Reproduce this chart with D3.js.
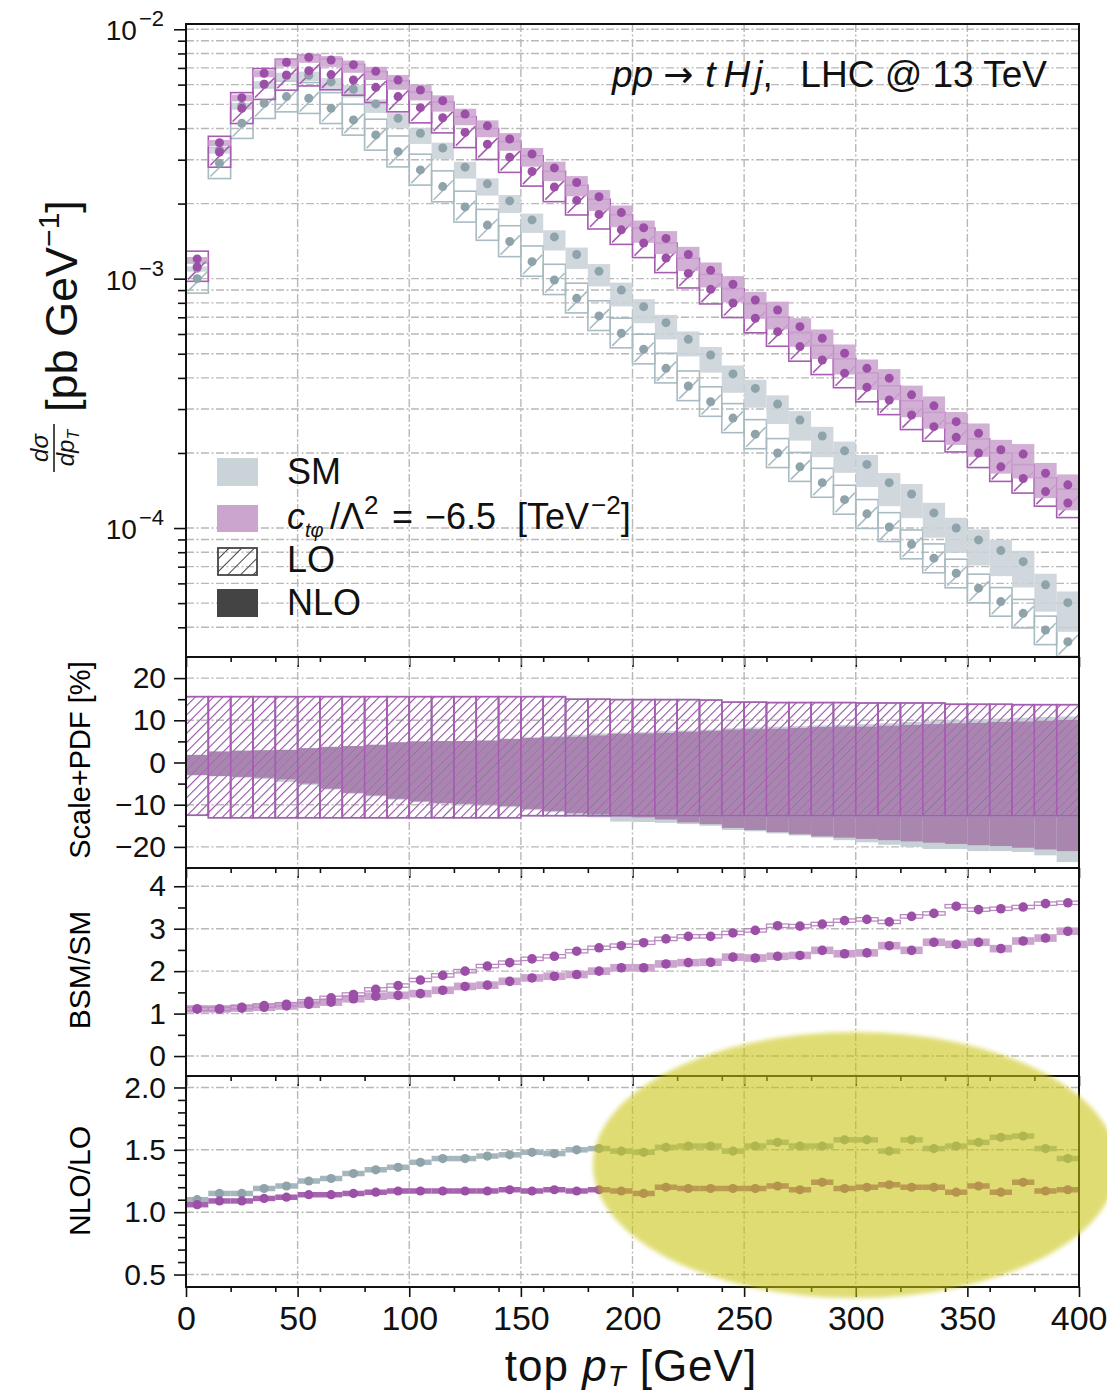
<!DOCTYPE html>
<html lang="en">
<head>
  <meta charset="UTF-8">
  <title>tHj top pT</title>
  <script src="https://cdn.jsdelivr.net/npm/d3@7"></script>
  <style>
    body { margin: 0; background: #fff; }
    svg { font-family: "Liberation Sans", Arial, Helvetica, sans-serif; }
    .grid { stroke: #b8b8b8; stroke-width: 1.4; stroke-dasharray: 8,2.5,2,2.5; }
    .axis line { stroke: #111; stroke-width: 1.6; }
    .axis path { display: none; }
    .axis text { font-family: "Liberation Sans", Arial, sans-serif; fill: #111; }
  </style>
</head>
<body>
<svg id="chart" width="1107" height="1392"></svg>
<script type="text/javascript">
  // 10 GeV bins, lower edges
  var binStart = [0,10,20,30,40,50,60,70,80,90,100,110,120,130,140,150,160,170,180,190,
                  200,210,220,230,240,250,260,270,280,290,300,310,320,330,340,350,360,370,380,390];
  var binWidth = 10;

  // top panel, d sigma / d pT [pb/GeV]
  var smLO = [1.00e-3,2.90e-3,4.20e-3,5.05e-3,5.37e-3,5.29e-3,4.82e-3,4.33e-3,3.77e-3,3.23e-3,
              2.73e-3,2.34e-3,1.94e-3,1.64e-3,1.41e-3,1.17e-3,9.88e-4,8.34e-4,7.09e-4,6.04e-4,
              5.21e-4,4.37e-4,3.71e-4,3.21e-4,2.76e-4,2.38e-4,2.00e-4,1.76e-4,1.52e-4,1.30e-4,
              1.14e-4,1.01e-4,8.61e-5,7.57e-5,6.59e-5,5.74e-5,5.07e-5,4.55e-5,3.90e-5,3.50e-5];
  var smNLO = [1.10e-3,3.28e-3,4.93e-3,6.02e-3,6.50e-3,6.54e-3,6.15e-3,5.75e-3,5.02e-3,4.40e-3,
               3.83e-3,3.34e-3,2.80e-3,2.40e-3,2.05e-3,1.72e-3,1.47e-3,1.25e-3,1.07e-3,9.00e-4,
               7.72e-4,6.66e-4,5.71e-4,4.94e-4,4.15e-4,3.63e-4,3.14e-4,2.71e-4,2.34e-4,2.04e-4,
               1.80e-4,1.52e-4,1.37e-4,1.15e-4,1.00e-4,8.96e-5,8.12e-5,7.33e-5,5.92e-5,5.02e-5];
  var bsmLO = [1.115e-3,3.22e-3,4.82e-3,6.02e-3,6.56e-3,6.82e-3,6.58e-3,6.26e-3,5.85e-3,5.37e-3,
               4.85e-3,4.42e-3,3.86e-3,3.46e-3,3.07e-3,2.69e-3,2.33e-3,2.06e-3,1.81e-3,1.57e-3,
               1.39e-3,1.21e-3,1.05e-3,9.06e-4,7.99e-4,6.94e-4,6.13e-4,5.34e-4,4.72e-4,4.18e-4,
               3.67e-4,3.26e-4,2.84e-4,2.55e-4,2.31e-4,2.00e-4,1.76e-4,1.58e-4,1.40e-4,1.26e-4];
  var bsmNLO = [1.20e-3,3.51e-3,5.32e-3,6.66e-3,7.37e-3,7.72e-3,7.53e-3,7.21e-3,6.79e-3,6.26e-3,
                5.71e-3,5.17e-3,4.57e-3,4.10e-3,3.63e-3,3.16e-3,2.78e-3,2.43e-3,2.13e-3,1.84e-3,
                1.60e-3,1.45e-3,1.25e-3,1.08e-3,9.50e-4,8.21e-4,7.49e-4,6.42e-4,5.77e-4,5.02e-4,
                4.37e-4,3.99e-4,3.42e-4,3.09e-4,2.67e-4,2.40e-4,2.06e-4,1.98e-4,1.66e-4,1.49e-4];

  // scale+PDF uncertainty [%]
  var loUp = [15.6,15.6,15.6,15.6,15.6,15.6,15.6,15.6,15.6,15.6,15.6,15.6,15.6,15.6,15.6,15.6,15.6,15.0,15.0,14.9,
              14.9,14.9,14.9,14.8,14.3,14.3,14.2,14.2,14.2,14.2,14.1,14.1,14.1,14.1,13.8,13.8,13.8,13.7,13.7,13.7];
  var loDown = [-12.5,-13.1,-13.1,-13.1,-13.1,-13.1,-13.1,-13.1,-13.1,-13.1,-13.1,-13.1,-13.1,-13.1,-13.1,-12.6,-12.6,-12.6,-12.6,-12.6,
                -12.6,-12.6,-12.6,-12.6,-12.6,-12.6,-12.6,-12.6,-12.6,-12.6,-12.6,-12.6,-12.6,-12.6,-12.6,-12.6,-12.6,-12.6,-12.6,-12.6];
  var smNloUp = [1.8,2.6,2.8,2.9,3.0,3.4,3.7,3.9,4.2,4.8,5.0,5.1,5.1,5.2,5.6,6.0,6.3,6.6,6.9,7.1,
                 7.2,7.5,7.6,7.8,8.1,8.3,8.5,8.6,8.8,8.9,9.1,9.3,9.6,9.8,10.0,10.2,10.4,10.6,10.8,10.9];
  var smNloDown = [-3.0,-3.3,-3.6,-3.9,-4.6,-5.3,-6.4,-7.4,-8.0,-8.8,-9.4,-9.8,-10.0,-10.3,-10.6,-11.3,-11.8,-12.4,-13.0,-14.0,
                   -14.1,-14.3,-14.6,-15.0,-16.0,-16.3,-16.8,-17.3,-17.8,-18.4,-18.9,-19.5,-20.0,-20.5,-20.5,-21.0,-21.0,-21.2,-22.0,-23.6];
  var bsmNloUp = [1.8,2.6,2.8,2.9,3.0,3.4,3.7,3.9,4.2,4.8,5.0,5.1,5.1,5.2,5.6,5.8,6.0,6.1,6.4,6.8,
                  6.9,7.0,7.3,7.5,7.8,7.9,8.0,8.2,8.4,8.5,8.5,8.7,8.9,9.1,9.3,9.4,9.6,9.7,9.9,10.1];
  var bsmNloDown = [-3.0,-3.2,-3.4,-3.6,-4.0,-5.0,-6.2,-7.2,-7.8,-8.6,-9.2,-9.6,-9.8,-10.0,-10.3,-11.0,-11.5,-12.0,-12.3,-12.6,
                    -13.0,-13.5,-14.2,-14.6,-15.5,-16.0,-16.5,-17.0,-17.5,-17.8,-18.1,-18.4,-18.7,-19.0,-19.3,-19.6,-19.8,-20.2,-20.6,-21.0];

  // BSM/SM
  var ratioLO = [1.11,1.11,1.15,1.19,1.22,1.29,1.37,1.45,1.57,1.66,1.79,1.90,2.00,2.12,2.20,2.29,2.35,2.47,2.55,2.60,
                 2.67,2.76,2.82,2.82,2.90,2.96,3.07,3.06,3.11,3.19,3.22,3.16,3.29,3.36,3.53,3.45,3.47,3.51,3.59,3.61];
  var ratioNLO = [1.11,1.11,1.13,1.15,1.18,1.22,1.27,1.35,1.41,1.43,1.47,1.55,1.64,1.67,1.76,1.84,1.88,1.92,2.00,2.08,
                  2.08,2.17,2.20,2.21,2.33,2.31,2.35,2.37,2.49,2.41,2.43,2.60,2.49,2.68,2.63,2.68,2.53,2.71,2.78,2.94];

  // NLO/LO
  var kSM = [1.10,1.15,1.15,1.19,1.21,1.25,1.27,1.31,1.34,1.36,1.40,1.43,1.43,1.45,1.46,1.48,1.47,1.50,1.51,1.49,
             1.48,1.52,1.53,1.53,1.49,1.53,1.56,1.53,1.53,1.58,1.58,1.49,1.58,1.51,1.53,1.56,1.60,1.61,1.51,1.43];
  var kBSM = [1.06,1.09,1.09,1.11,1.12,1.14,1.14,1.15,1.16,1.17,1.17,1.17,1.17,1.17,1.18,1.17,1.18,1.17,1.18,1.17,
              1.15,1.20,1.19,1.19,1.19,1.19,1.21,1.18,1.24,1.19,1.20,1.22,1.20,1.20,1.16,1.21,1.16,1.24,1.17,1.18];

  // ticks
  var xMajor = [0,50,100,150,200,250,300,350,400];
  var xMinor = [20,40,60,80,120,140,160,180,220,240,260,280,320,340,360,380];
  var xGrid = [50,100,150,200,250,300,350];
  var topMajor = [1e-4,1e-3,1e-2];
  var topMinor = [4e-5,5e-5,6e-5,7e-5,8e-5,9e-5,2e-4,3e-4,4e-4,5e-4,6e-4,7e-4,8e-4,9e-4,
                  2e-3,3e-3,4e-3,5e-3,6e-3,7e-3,8e-3,9e-3];
  var uncMajor = [-20,-10,0,10,20], uncMinor = [-15,-5,5,15];
  var ratioMajor = [0,1,2,3,4], ratioMinor = [0.5,1.5,2.5,3.5];
  var kMajor = [0.5,1.0,1.5,2.0];
  var kMinor = [0.6,0.7,0.8,0.9,1.1,1.2,1.3,1.4,1.6,1.7,1.8,1.9];

  var smFill = "#c9d3d8", smDot = "#8fa3ab", smLine = "#a9bbc2";
  var bsmFill = "#cca5cf", bsmDot = "#9c4fa7", bsmLine = "#a65cb0";

  var left = 186, right = 1079;
  var svg = d3.select("#chart");
  var x = d3.scaleLinear().domain([0, 400]).range([left, right]);
  var yTop = d3.scaleLog().domain([3.04e-5, 1.05e-2]).range([657, 24]);
  var yUnc = d3.scaleLinear().domain([-25, 25]).range([868, 657]);
  var yRatio = d3.scaleLinear().domain([-0.47, 4.43]).range([1076, 868]);
  var yK = d3.scaleLinear().domain([0.4, 2.1]).range([1287, 1075]);

  var defs = svg.append("defs");
  function hatch(id, color, size, width) {
    defs.append("pattern").attr("id", id)
      .attr("patternUnits", "userSpaceOnUse")
      .attr("width", size).attr("height", size)
      .attr("patternTransform", "rotate(45)")
      .append("line")
      .attr("x1", 0).attr("y1", -1).attr("x2", 0).attr("y2", size + 1)
      .attr("stroke", color).attr("stroke-width", width);
  }
  hatch("hatchSM", smLine, 6.5, 2);
  hatch("hatchBSM", bsmLine, 6.5, 2);
  hatch("hatchLeg", "#444", 9, 2);
  defs.append("filter").attr("id", "soft")
    .append("feGaussianBlur").attr("stdDeviation", 2);

  // grid lines for one panel
  function drawGrid(yScale, yVals, y0, y1) {
    var g = svg.append("g");
    g.selectAll(null).data(yVals).enter().append("line")
      .attr("class", "grid")
      .attr("x1", left).attr("x2", right)
      .attr("y1", function(d) { return yScale(d); })
      .attr("y2", function(d) { return yScale(d); });
    g.selectAll(null).data(xGrid).enter().append("line")
      .attr("class", "grid")
      .attr("x1", function(d) { return x(d); })
      .attr("x2", function(d) { return x(d); })
      .attr("y1", y0).attr("y2", y1);
  }

  function drawFrame(y0, y1) {
    svg.append("rect")
      .attr("x", left).attr("y", y0)
      .attr("width", right - left).attr("height", y1 - y0)
      .attr("fill", "none").attr("stroke", "#111").attr("stroke-width", 2);
  }

  function drawXAxis(yPos, withLabels) {
    svg.append("g").attr("class", "axis")
      .attr("transform", "translate(0," + yPos + ")")
      .call(d3.axisBottom(x).tickValues(xMinor).tickSize(5).tickFormat(""));
    var g = svg.append("g").attr("class", "axis")
      .attr("transform", "translate(0," + yPos + ")")
      .call(d3.axisBottom(x).tickValues(xMajor).tickSize(10).tickPadding(9)
        .tickFormat(withLabels ? d3.format("d") : ""));
    g.selectAll("text").style("font-size", "34px");
    // last label sits flush with the right edge
    g.selectAll("text").filter(function(d) { return d === 400; })
      .attr("text-anchor", "end").attr("x", 28);
  }

  function drawYAxis(yScale, major, minor, fmt) {
    svg.append("g").attr("class", "axis")
      .attr("transform", "translate(" + left + ",0)")
      .call(d3.axisLeft(yScale).tickValues(minor).tickSize(8).tickFormat(""));
    var g = svg.append("g").attr("class", "axis")
      .attr("transform", "translate(" + left + ",0)")
      .call(d3.axisLeft(yScale).tickValues(major).tickSize(12).tickPadding(8).tickFormat(fmt));
    g.selectAll("text").style("font-size", "30px");
  }

  function yLabel(text, cx, cy, size) {
    svg.append("text")
      .attr("transform", "translate(" + cx + "," + cy + ") rotate(-90)")
      .attr("text-anchor", "middle")
      .style("font-size", size + "px")
      .text(text);
  }

  // ---------- top panel ----------
  drawGrid(yTop, topMinor.concat(topMajor), 24, 657);

  function loBoxes(vals, line) {
    var g = svg.append("g");
    vals.forEach(function(v, i) {
      var x0 = x(binStart[i]), x1 = x(binStart[i] + binWidth);
      var yt = yTop(v * (1 + loUp[i] / 100)), yb = yTop(v * (1 + loDown[i] / 100));
      var w = x1 - x0, h = yb - yt, L = Math.min(w, h) - 3;
      g.append("rect").attr("x", x0).attr("y", yt).attr("width", w).attr("height", h)
        .attr("fill", "none").attr("stroke", line).attr("stroke-width", 1.6);
      g.append("line")
        .attr("x1", x0 + 2).attr("y1", yb - 2).attr("x2", x0 + 2 + L).attr("y2", yb - 2 - L)
        .attr("stroke", line).attr("stroke-width", 1.6);
    });
  }
  function nloBoxes(vals, up, down, fill) {
    svg.append("g").selectAll(null).data(vals).enter().append("rect")
      .attr("x", function(d, i) { return x(binStart[i]); })
      .attr("width", x(binWidth) - x(0))
      .attr("y", function(d, i) { return yTop(d * (1 + up[i] / 100)); })
      .attr("height", function(d, i) { return yTop(d * (1 + down[i] / 100)) - yTop(d * (1 + up[i] / 100)); })
      .attr("fill", fill).attr("opacity", 0.88);
  }
  function dots(vals, yScale, color, r) {
    svg.append("g").selectAll(null).data(vals).enter().append("circle")
      .attr("cx", function(d, i) { return x(binStart[i] + binWidth / 2); })
      .attr("cy", function(d) { return yScale(d); })
      .attr("r", r).attr("fill", color);
  }

  loBoxes(smLO, smLine);
  nloBoxes(smNLO, smNloUp, smNloDown, smFill);
  loBoxes(bsmLO, bsmLine);
  nloBoxes(bsmNLO, bsmNloUp, bsmNloDown, bsmFill);
  dots(smLO, yTop, smDot, 4.5);
  dots(smNLO, yTop, smDot, 4.5);
  dots(bsmLO, yTop, bsmDot, 4.5);
  dots(bsmNLO, yTop, bsmDot, 4.5);

  // log axis
  svg.append("g").attr("class", "axis")
    .attr("transform", "translate(" + left + ",0)")
    .call(d3.axisLeft(yTop).tickValues(topMinor).tickSize(8).tickFormat(""));
  svg.append("g").attr("class", "axis")
    .attr("transform", "translate(" + left + ",0)")
    .call(d3.axisLeft(yTop).tickValues(topMajor).tickSize(12).tickFormat(""));
  var expLabels = svg.append("g").selectAll(null).data(topMajor).enter().append("text")
    .attr("x", 164).attr("y", function(d) { return yTop(d) + 11; })
    .attr("text-anchor", "end").style("font-size", "28px").attr("fill", "#111");
  expLabels.append("tspan").text("10");
  expLabels.append("tspan").attr("dy", -14).attr("dx", 2).style("font-size", "22px")
    .text(function(d) { return "\u2212" + Math.round(-Math.log10(d)); });

  drawFrame(24, 657);
  drawXAxis(657, false);

  // title
  var title = svg.append("text").attr("x", 612).attr("y", 87)
    .style("font-size", "37px").attr("fill", "#111");
  title.append("tspan").style("font-style", "italic").text("pp");
  title.append("tspan").attr("dx", 10).style("font-family", "DejaVu Sans").style("font-size", "36px").text("\u2192");
  title.append("tspan").attr("dx", 12).style("font-style", "italic").text("t");
  title.append("tspan").attr("dx", 8).style("font-style", "italic").text("H");
  title.append("tspan").attr("dx", 4).style("font-style", "italic").text("j");
  title.append("tspan").text(",");
  svg.append("text").attr("x", 1047).attr("y", 87).attr("text-anchor", "end")
    .style("font-size", "37px").attr("fill", "#111").text("LHC @ 13 TeV");

  // legend
  var leg = svg.append("g");
  leg.append("rect").attr("x", 217).attr("y", 458).attr("width", 41).attr("height", 28).attr("fill", smFill);
  leg.append("rect").attr("x", 217).attr("y", 505).attr("width", 41).attr("height", 27).attr("fill", bsmFill);
  leg.append("rect").attr("x", 218).attr("y", 548).attr("width", 39).attr("height", 27)
    .attr("fill", "url(#hatchLeg)").attr("stroke", "#444").attr("stroke-width", 1.8);
  leg.append("rect").attr("x", 217).attr("y", 589).attr("width", 41).attr("height", 28).attr("fill", "#444");
  function legText(yb) {
    return leg.append("text").attr("x", 287).attr("y", yb).style("font-size", "36px").attr("fill", "#111");
  }
  legText(484).text("SM");
  var c = legText(529);
  c.append("tspan").style("font-style", "italic").text("c");
  c.append("tspan").attr("dy", 8).style("font-size", "20px").style("font-style", "italic").text("t\u03c6");
  c.append("tspan").attr("x", 330).attr("dy", -8).text("/\u039b");
  c.append("tspan").attr("dy", -15).style("font-size", "26px").text("2");
  c.append("tspan").attr("x", 392).attr("dy", 15).text("=");
  c.append("tspan").attr("x", 425).text("\u22126.5");
  c.append("tspan").attr("x", 517).text("[TeV");
  c.append("tspan").attr("dy", -15).attr("dx", 2).style("font-size", "26px").text("\u22122");
  c.append("tspan").attr("dy", 15).text("]");
  legText(572).text("LO");
  legText(615).text("NLO");

  // y label of top panel
  var frac = svg.append("g").attr("transform", "translate(54,448) rotate(-90)")
    .style("font-size", "24px").style("font-style", "italic").attr("fill", "#111");
  frac.append("text").attr("x", 0).attr("y", -6).attr("text-anchor", "middle").text("d\u03c3");
  var den = frac.append("text").attr("x", 0).attr("y", 20).attr("text-anchor", "middle");
  den.append("tspan").text("dp");
  den.append("tspan").attr("dy", 5).style("font-size", "16px").text("T");
  frac.append("line").attr("x1", -24).attr("x2", 24).attr("y1", 0).attr("y2", 0)
    .attr("stroke", "#111").attr("stroke-width", 1.5);
  var unit = svg.append("text").attr("transform", "translate(77,412) rotate(-90)")
    .style("font-size", "45px").attr("fill", "#111");
  unit.append("tspan").text("[pb GeV");
  unit.append("tspan").attr("dy", -18).style("font-size", "30px").text("\u22121");
  unit.append("tspan").attr("dy", 18).text("]");

  // ---------- scale + PDF panel ----------
  drawGrid(yUnc, uncMajor, 657, 868);
  function uncBand(up, down, fill) {
    svg.append("g").selectAll(null).data(up).enter().append("rect")
      .attr("x", function(d, i) { return x(binStart[i]); })
      .attr("width", x(binWidth) - x(0))
      .attr("y", function(d) { return yUnc(d); })
      .attr("height", function(d, i) { return yUnc(down[i]) - yUnc(d); })
      .attr("fill", fill);
  }
  uncBand(smNloUp, smNloDown, "#c6d0d5");
  uncBand(bsmNloUp, bsmNloDown, "#a886ae");
  function hatchBand(pattern, line) {
    svg.append("g").selectAll(null).data(loUp).enter().append("rect")
      .attr("x", function(d, i) { return x(binStart[i]); })
      .attr("width", x(binWidth) - x(0))
      .attr("y", function(d) { return yUnc(d); })
      .attr("height", function(d, i) { return yUnc(loDown[i]) - yUnc(d); })
      .attr("fill", pattern).attr("stroke", line).attr("stroke-width", 1.6);
  }
  hatchBand("url(#hatchSM)", smLine);
  hatchBand("url(#hatchBSM)", bsmLine);
  drawYAxis(yUnc, uncMajor, uncMinor, d3.format("d"));
  drawFrame(657, 868);
  drawXAxis(868, false);
  yLabel("Scale+PDF [%]", 90, 760, 29);

  // ---------- BSM/SM panel ----------
  drawGrid(yRatio, ratioMajor, 868, 1076);
  svg.append("g").selectAll(null).data(ratioNLO).enter().append("rect")
    .attr("x", function(d, i) { return x(binStart[i]); })
    .attr("width", x(binWidth) - x(0))
    .attr("y", function(d) { return yRatio(d + 0.09); })
    .attr("height", yRatio(0) - yRatio(0.18))
    .attr("fill", bsmFill);
  svg.append("g").selectAll(null).data(ratioLO).enter().append("rect")
    .attr("x", function(d, i) { return x(binStart[i]); })
    .attr("width", x(binWidth) - x(0))
    .attr("y", function(d) { return yRatio(d + 0.04); })
    .attr("height", yRatio(0) - yRatio(0.08))
    .attr("fill", "none").attr("stroke", "#bb8ac0").attr("stroke-width", 1.3);
  dots(ratioNLO, yRatio, bsmDot, 4.8);
  dots(ratioLO, yRatio, bsmDot, 4.8);
  drawYAxis(yRatio, ratioMajor, ratioMinor, d3.format("d"));
  drawFrame(868, 1076);
  drawXAxis(1076, false);
  yLabel("BSM/SM", 90, 970, 30);

  // ---------- NLO/LO panel ----------
  drawGrid(yK, kMajor, 1076, 1287);
  function kBars(vals, fill, dot) {
    svg.append("g").selectAll(null).data(vals).enter().append("rect")
      .attr("x", function(d, i) { return x(binStart[i]); })
      .attr("width", x(binWidth) - x(0))
      .attr("y", function(d) { return yK(d + 0.022); })
      .attr("height", yK(0) - yK(0.044))
      .attr("fill", fill);
    dots(vals, yK, dot, 4.6);
  }
  kBars(kSM, "#a5b6bc", smDot);
  kBars(kBSM, "#a762b0", bsmDot);
  drawYAxis(yK, kMajor, kMinor, d3.format(".1f"));
  drawFrame(1076, 1287);
  drawXAxis(1287, true);
  yLabel("NLO/LO", 90, 1181, 30);

  var xt = svg.append("text").attr("x", 631).attr("y", 1381)
    .attr("text-anchor", "middle").style("font-size", "44px")
    .style("letter-spacing", "1px").attr("fill", "#111");
  xt.append("tspan").text("top ");
  xt.append("tspan").style("font-style", "italic").text("p");
  xt.append("tspan").attr("dy", 5).style("font-size", "29px").style("font-style", "italic").text("T");
  xt.append("tspan").attr("dy", -5).text(" [GeV]");

  // highlight
  svg.append("ellipse")
    .attr("cx", 855).attr("cy", 1165).attr("rx", 262).attr("ry", 133)
    .attr("fill", "rgb(200,196,10)").attr("opacity", 0.58)
    .attr("filter", "url(#soft)");
</script>
</body>
</html>
